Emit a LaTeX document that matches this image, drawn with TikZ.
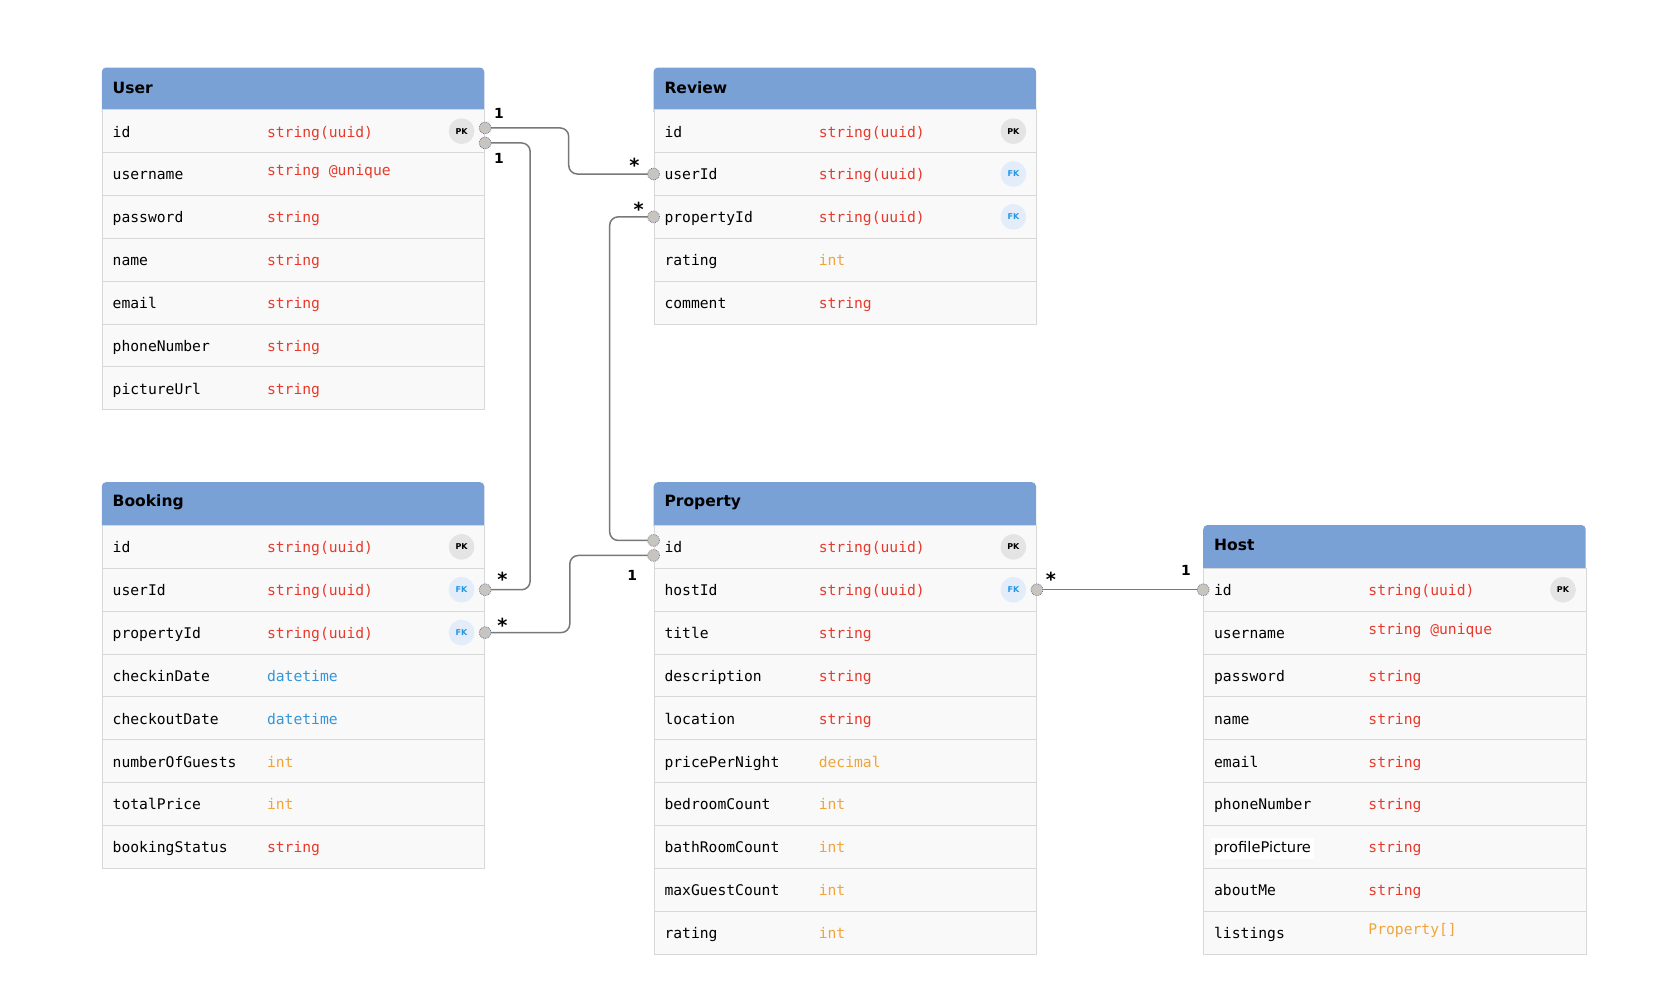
\documentclass[tikz,border=0pt]{standalone}
\usepackage{fontspec}
\setsansfont{DejaVu Sans}
\setmonofont{DejaVu Sans Mono}

\definecolor{headblue}{RGB}{122,161,213}
\definecolor{rowfill}{RGB}{249,249,249}
\definecolor{rowline}{RGB}{216,216,216}
\definecolor{typered}{RGB}{232,58,44}
\definecolor{typeorange}{RGB}{240,165,60}
\definecolor{typeblue}{RGB}{52,150,218}
\definecolor{pkgrey}{RGB}{228,228,228}
\definecolor{fkfill}{RGB}{226,237,249}
\definecolor{fkblue}{RGB}{40,150,230}
\definecolor{linkgrey}{RGB}{120,120,120}
\definecolor{endfill}{RGB}{200,196,191}
\definecolor{endline}{RGB}{100,115,140}

\begin{document}
\begin{tikzpicture}
        [x=1pt, y=-1pt,
        headtext/.style={font=\sffamily\bfseries\fontsize{14.5}{16}\selectfont, anchor=west, inner sep=0pt},
        rowbox/.style={draw=rowline, fill=rowfill, line width=0.8pt, minimum width=357pt, minimum height=40pt, anchor=north west, inner sep=0pt},
        fieldname/.style={font=\ttfamily\fontsize{13.7}{16}\selectfont, anchor=west, inner sep=0pt, text height=12pt, text depth=1pt},
        keybadge/.style={circle, minimum size=24pt, inner sep=0pt, font=\sffamily\bfseries\fontsize{7.5}{8}\selectfont},
        pk/.style={keybadge, fill=pkgrey},
        fk/.style={keybadge, fill=fkfill, text=fkblue},
        link/.style={draw=linkgrey, line width=1.4pt, rounded corners=8pt},
        endpt/.style={circle, minimum size=11pt, inner sep=0pt, fill=endfill, draw=endline, densely dotted, line width=0.7pt},
        card/.style={font=\sffamily\bfseries\fontsize{13}{14}\selectfont, inner sep=0pt},
        many/.style={card, font=\sffamily\bfseries\fontsize{18}{18}\selectfont}]
        \useasboundingbox (0,0) rectangle (1568,940);

        % User
        \fill[headblue, rounded corners=4pt] (95,63) rectangle (452,108);
        \node[headtext] (user) at (105,82) {User};
        \foreach \fld/\ty/\col [count=\i from 0] in {id/string(uuid)/typered, username/{\raisebox{4pt}{string @unique}}/typered, password/string/typered, name/string/typered, email/string/typered, phoneNumber/string/typered, pictureUrl/string/typered} {
            \node[rowbox] (user-\i) at (95,{102+40*\i}) {};
            \node[fieldname] at ([xshift=10pt]user-\i.west) {\fld};
            \node[fieldname, text=\col] at ([xshift=154pt]user-\i.west) {\ty};
        }
        \node[pk] at ([xshift=-22pt]user-0.east) {PK};

        % Review
        \fill[headblue, rounded corners=4pt] (610,63) rectangle (967,108);
        \node[headtext] (review) at (620,82) {Review};
        \foreach \fld/\ty/\col [count=\i from 0] in {id/string(uuid)/typered, userId/string(uuid)/typered, propertyId/string(uuid)/typered, rating/int/typeorange, comment/string/typered} {
            \node[rowbox] (review-\i) at (610,{102+40*\i}) {};
            \node[fieldname] at ([xshift=10pt]review-\i.west) {\fld};
            \node[fieldname, text=\col] at ([xshift=154pt]review-\i.west) {\ty};
        }
        \node[pk] at ([xshift=-22pt]review-0.east) {PK};
        \node[fk] at ([xshift=-22pt]review-1.east) {FK};
        \node[fk] at ([xshift=-22pt]review-2.east) {FK};

        % Booking
        \fill[headblue, rounded corners=4pt] (95,450) rectangle (452,495);
        \node[headtext] (booking) at (105,469) {Booking};
        \foreach \fld/\ty/\col [count=\i from 0] in {id/string(uuid)/typered, userId/string(uuid)/typered, propertyId/string(uuid)/typered, checkinDate/datetime/typeblue, checkoutDate/datetime/typeblue, numberOfGuests/int/typeorange, totalPrice/int/typeorange, bookingStatus/string/typered} {
            \node[rowbox] (booking-\i) at (95,{490+40*\i}) {};
            \node[fieldname] at ([xshift=10pt]booking-\i.west) {\fld};
            \node[fieldname, text=\col] at ([xshift=154pt]booking-\i.west) {\ty};
        }
        \node[pk] at ([xshift=-22pt]booking-0.east) {PK};
        \node[fk] at ([xshift=-22pt]booking-1.east) {FK};
        \node[fk] at ([xshift=-22pt]booking-2.east) {FK};

        % Property
        \fill[headblue, rounded corners=4pt] (610,450) rectangle (967,495);
        \node[headtext] (property) at (620,469) {Property};
        \foreach \fld/\ty/\col [count=\i from 0] in {id/string(uuid)/typered, hostId/string(uuid)/typered, title/string/typered, description/string/typered, location/string/typered, pricePerNight/decimal/typeorange, bedroomCount/int/typeorange, bathRoomCount/int/typeorange, maxGuestCount/int/typeorange, rating/int/typeorange} {
            \node[rowbox] (property-\i) at (610,{490+40*\i}) {};
            \node[fieldname] at ([xshift=10pt]property-\i.west) {\fld};
            \node[fieldname, text=\col] at ([xshift=154pt]property-\i.west) {\ty};
        }
        \node[pk] at ([xshift=-22pt]property-0.east) {PK};
        \node[fk] at ([xshift=-22pt]property-1.east) {FK};

        % Host
        \fill[headblue, rounded corners=4pt] (1123,490) rectangle (1480,535);
        \node[headtext] (host) at (1133,509) {Host};
        \foreach \fld/\ty/\col [count=\i from 0] in {id/string(uuid)/typered, username/{\raisebox{4pt}{string @unique}}/typered, password/string/typered, name/string/typered, email/string/typered, phoneNumber/string/typered, {\hspace*{-3pt}\colorbox{white}{\sffamily profilePicture}}/string/typered, aboutMe/string/typered, listings/{\raisebox{4pt}{Property[]}}/typeorange} {
            \node[rowbox] (host-\i) at (1123,{530+40*\i}) {};
            \node[fieldname] at ([xshift=10pt]host-\i.west) {\fld};
            \node[fieldname, text=\col] at ([xshift=154pt]host-\i.west) {\ty};
        }
        \node[pk] at ([xshift=-22pt]host-0.east) {PK};

        % relations
        \draw[link] ([yshift=3pt]user-0.east) -- ++(78,0) |- (review-1.west);
        \draw[link] ([yshift=-11pt]user-0.east) -- ++(42,0) |- (booking-1.east);
        \draw[link] (review-2.west) -- ++(-41,0) |- ([yshift=6pt]property-0.west);
        \draw[link] (booking-2.east) -- ++(79,0) |- ([yshift=-8pt]property-0.west);
        \draw[link] (property-1.east) -- (host-0.west);

        \node[endpt] at ([yshift=3pt]user-0.east) {};
        \node[endpt] at ([yshift=-11pt]user-0.east) {};
        \node[endpt] at (review-1.west) {};
        \node[endpt] at (review-2.west) {};
        \node[endpt] at (booking-1.east) {};
        \node[endpt] at (booking-2.east) {};
        \node[endpt] at ([yshift=6pt]property-0.west) {};
        \node[endpt] at ([yshift=-8pt]property-0.west) {};
        \node[endpt] at (property-1.east) {};
        \node[endpt] at (host-0.west) {};

        \node[card] at ([shift={(13,-17)}]user-0.east) {1};
        \node[card] at ([shift={(13,25)}]user-0.east) {1};
        \node[many] at ([shift={(-18,-8)}]review-1.west) {*};
        \node[many] at ([shift={(-14,-7)}]review-2.west) {*};
        \node[many] at ([shift={(16,-10)}]booking-1.east) {*};
        \node[many] at ([shift={(16,-7)}]booking-2.east) {*};
        \node[card] at ([shift={(-20,27)}]property-0.west) {1};
        \node[many] at ([shift={(13,-10)}]property-1.east) {*};
        \node[card] at ([shift={(-16,-18)}]host-0.west) {1};
\end{tikzpicture}
\end{document}
